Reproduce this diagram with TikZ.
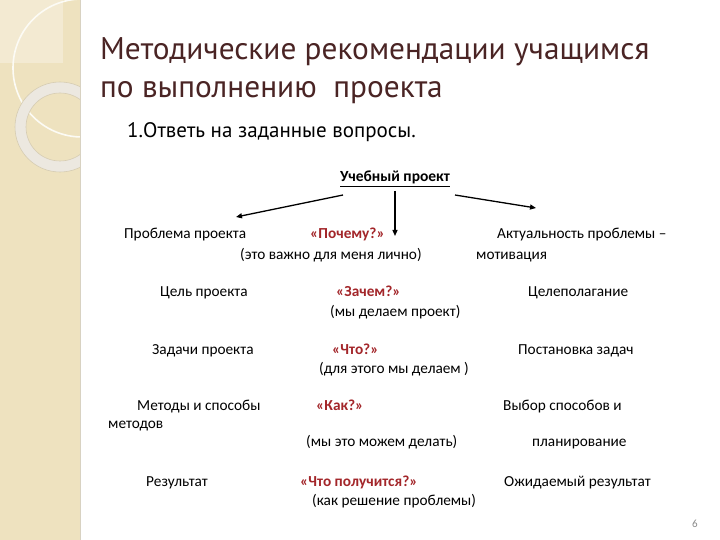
\documentclass[tikz,border=0pt]{standalone}
\usepackage{fontspec}
\setmainfont{Carlito}
\newfontfamily\titlefont{PT Sans}
\usetikzlibrary{arrows.meta}
\definecolor{band}{HTML}{EEE2BF}
\definecolor{bandlight}{HTML}{F3EAD2}
\definecolor{ringc}{HTML}{ECE8E0}
\definecolor{ringedge}{HTML}{D6CCB2}
\definecolor{titlec}{HTML}{4A2424}
\definecolor{qred}{HTML}{A3262A}
\definecolor{numgrey}{HTML}{8A8A8A}
\tikzset{
  lbl/.style={anchor=base west, inner sep=0pt, font=\fontsize{15.3}{17}\selectfont, text=black},
  qlbl/.style={anchor=base west, inner sep=0pt, font=\fontsize{15.3}{17}\selectfont\bfseries, text=qred},
  arr/.style={-{Triangle[length=6pt,width=5pt]}, line width=1.3pt},
}
\begin{document}
\begin{tikzpicture}[x=1pt,y=-1pt]
\useasboundingbox (0,0) rectangle (720,540);
\fill[white] (0,0) rectangle (720,540);
% left decorative band
\begin{scope}
\clip (0,0) rectangle (80,540);
\fill[band] (0,0) rectangle (80,540);
\fill[bandlight] (0,0) rectangle (63,63);
\draw[white!85!band, line width=1.6pt] (82,68) circle (69);
\fill[ringc, even odd rule] (60,127) circle (45) (60,127) circle (34);
\draw[ringedge, line width=0.6pt] (60,127) circle (45) (60,127) circle (34);
\end{scope}
\draw[band!80!black!60, line width=0.8pt] (80,0) -- (80,540);
% title
\node[anchor=base west, inner sep=0pt, text=titlec, font=\titlefont\fontsize{31.3}{34}\selectfont] (t1) at (100,60) {Методические рекомендации учащимся};
\node[anchor=base west, inner sep=0pt, text=titlec, font=\titlefont\fontsize{31.3}{34}\selectfont] (t2) at (100,98) {по выполнению\ \ проекта};
\node[anchor=base west, inner sep=0pt, text=black, font=\titlefont\fontsize{21}{24}\selectfont] (sub) at (127,138) {1.Ответь на заданные вопросы.};
% root
\node[anchor=base, inner sep=0pt, font=\fontsize{15.5}{17}\selectfont\bfseries] (root) at (395,182) {\underline{Учебный проект}};
\coordinate (la) at (343,195);
\coordinate (lb) at (236,217);
\coordinate (ma) at (395,191);
\coordinate (mb) at (395,236);
\coordinate (ra) at (455,195);
\coordinate (rb) at (536,208);
\draw[arr] (la) -- (lb);
\draw[arr] (ma) -- (mb);
\draw[arr] (ra) -- (rb);
% row 1
\node[lbl] (p1) at (124,239) {Проблема проекта};
\node[qlbl] (q1) at (310,239) {«Почему?»};
\node[lbl] (r1) at (497,239) {Актуальность проблемы –};
\node[lbl] (e1) at (240,259) {(это важно для меня лично)};
\node[lbl] (m1) at (476,259) {мотивация};
% row 2
\node[lbl] (p2) at (160,296) {Цель проекта};
\node[qlbl] (q2) at (336,296) {«Зачем?»};
\node[lbl] (r2) at (528,296) {Целеполагание};
\node[lbl] (e2) at (330,316) {(мы делаем проект)};
% row 3
\node[lbl] (p3) at (152,354) {Задачи проекта};
\node[qlbl] (q3) at (332,354) {«Что?»};
\node[lbl] (r3) at (518,354) {Постановка задач};
\node[lbl] (e3) at (319,373) {(для этого мы делаем )};
% row 4
\node[lbl] (p4) at (137,410) {Методы и способы};
\node[qlbl] (q4) at (316,410) {«Как?»};
\node[lbl] (r4) at (503,410) {Выбор способов и};
\node[lbl] (m4) at (108,428) {методов};
\node[lbl] (e4) at (306,446) {(мы это можем делать)};
\node[lbl] (s4) at (532,446) {планирование};
% row 5
\node[lbl] (p5) at (146,486) {Результат};
\node[qlbl] (q5) at (300,486) {«Что получится?»};
\node[lbl] (r5) at (504,486) {Ожидаемый результат};
\node[lbl] (e5) at (312,505) {(как решение проблемы)};
% page number
\node[anchor=center, inner sep=0pt, text=numgrey, font=\fontsize{11}{12}\selectfont] (pg) at (695,524) {6};
\end{tikzpicture}
\end{document}
